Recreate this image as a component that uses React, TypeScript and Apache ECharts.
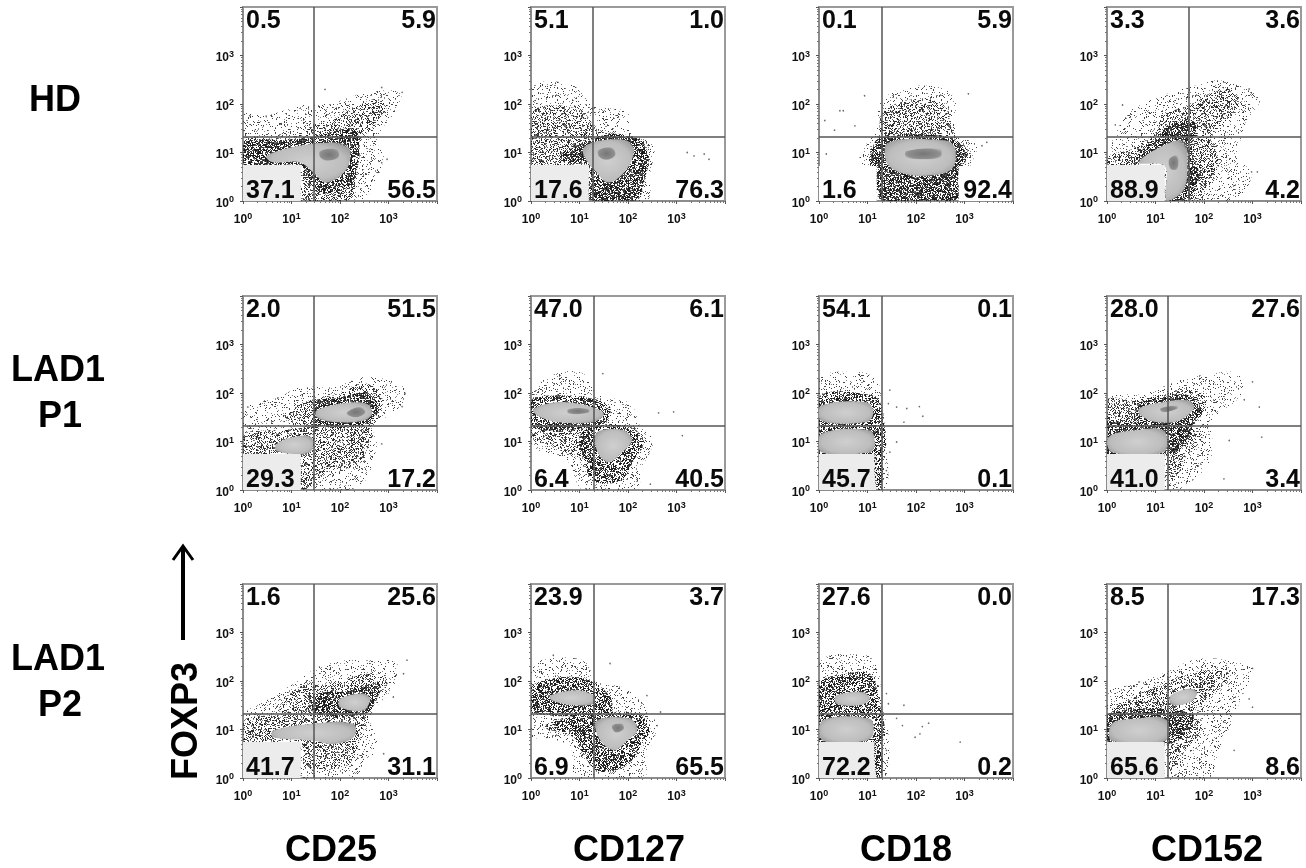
import React, { useEffect, useRef } from "react";
import * as echarts from "echarts";

// Tick decades and text
const tickExponents = [0, 1, 2, 3];
const rowLabels = [["HD"], ["LAD1", "P1"], ["LAD1", "P2"]];
const columnLabels = ["CD25", "CD127", "CD18", "CD152"];
const yAxisTitle = "FOXP3";

// Quadrant percentages: upper-left, upper-right, lower-left, lower-right
const quadrantRow1 = [["0.5", "5.9", "37.1", "56.5"], ["5.1", "1.0", "17.6", "76.3"], ["0.1", "5.9", "1.6", "92.4"], ["3.3", "3.6", "88.9", "4.2"]];
const quadrantRow2 = [["2.0", "51.5", "29.3", "17.2"], ["47.0", "6.1", "6.4", "40.5"], ["54.1", "0.1", "45.7", "0.1"], ["28.0", "27.6", "41.0", "3.4"]];
const quadrantRow3 = [["1.6", "25.6", "41.7", "31.1"], ["23.9", "3.7", "6.9", "65.5"], ["27.6", "0.0", "72.2", "0.2"], ["8.5", "17.3", "65.6", "8.6"]];

// Quadrant gates, log10 of the fluorescence value
const gateXRow1 = [1.45, 1.28, 1.29, 1.69];
const gateXRow2 = [1.46, 1.30, 1.29, 1.26];
const gateXRow3 = [1.46, 1.30, 1.29, 1.26];
const gateYRows = [1.33, 1.32, 1.32];

type Pt = number[];
type Layer = [string, Pt[]];

// Outlines of the cell populations, log10 coordinates
const hdCd25: Layer[] = [
  ["sparse", [[0, 1.76], [.48, 1.76], [1.17, 1.97], [1.86, 2.03], [2.55, 2.24], [3.24, 2.24], [3.17, 1.9], [2.76, 1.28], [2.9, .86], [2.41, 0], [0, 0]]],
  ["medium", [[.03, 1.28], [.9, 1.28], [1.45, 1.55], [2, 1.76], [2.69, 2.1], [2.97, 1.97], [2.76, 1.62], [2.41, 1.2], [2.34, .59], [2.2, .03], [1.24, .03], [1.17, .72], [.03, .72]]],
  ["dense", [[.03, 1.2], [.9, 1.26], [1.5, 1.33], [2.25, 1.5], [2.4, 1.25], [2.34, .6], [2.1, .25], [1.5, .2], [1.2, .72], [.03, .72]]],
  ["core", [[.48, .93], [1.17, 1.14], [2, 1.2], [2.2, 1.07], [2.14, .66], [1.72, .38], [1.45, .59], [1.17, .8], [.62, .8]]],
  ["peak", [[1.59, 1.03], [1.93, 1.07], [1.97, .9], [1.72, .83], [1.59, .9]]],
  ["box", [[0, 0], [1.19, 0], [1.19, .74], [0, .74]]],
];
const hdCd127: Layer[] = [
  ["sparse", [[0, 2.31], [.81, 2.41], [1.29, 1.97], [1.98, 1.83], [2.05, 1.41], [2.53, 1.14], [2.46, .59], [2.36, 0], [0, 0]]],
  ["medium", [[.03, 1.83], [.53, 1.97], [1.08, 1.83], [1.36, 1.48], [1.84, 1.34], [2.26, 1.28], [2.43, .93], [2.32, .38], [2.19, .03], [1.22, .03], [1.19, .72], [.03, .72]]],
  ["dense", [[.6, .95], [1.0, 1.15], [1.62, 1.38], [2.19, 1.28], [2.43, .93], [2.32, .38], [2.19, .03], [1.22, .03], [1.19, .72], [.74, .79]]],
  ["core", [[1.07, 1.07], [1.4, 1.24], [1.98, 1.24], [2.12, 1.05], [1.98, .66], [1.6, .38], [1.29, .66], [1.17, .8]]],
  ["peak", [[1.39, 1.05], [1.67, 1.1], [1.74, .95], [1.57, .85], [1.4, .92]]],
  ["box", [[0, 0], [1.19, 0], [1.19, .74], [0, .74]]],
];
const hdCd18: Layer[] = [
  ["sparse", [[.84, .93], [1.12, 1.41], [1.32, 2.1], [2.08, 2.38], [2.77, 2.17], [2.84, 1.41], [3.25, 1.14], [3.12, .72], [2.91, 0], [1.19, 0], [.91, .66]]],
  ["medium", [[1.22, 1.3], [1.32, 1.83], [1.94, 2.1], [2.57, 1.97], [2.77, 1.41], [3.05, 1.07], [3.05, .86], [2.88, .59], [2.84, .03], [1.29, .03], [1.12, .59], [1.01, .93]]],
  ["dense", [[1.25, 1.3], [2.7, 1.32], [3.0, 1.0], [2.86, .5], [2.84, .03], [1.3, .03], [1.16, .6], [1.08, .95]]],
  ["core", [[1.43, 1.21], [2.63, 1.24], [2.81, 1.07], [2.74, .66], [2.22, .52], [1.67, .59], [1.39, .8]]],
  ["peak", [[1.8, 1.03], [2.5, 1.07], [2.5, .9], [2.1, .86], [1.8, .9]]],
  ["mask", [[0, 0], [1.19, 0], [1.19, .72], [0, .72]]],
  ["mask", [[2.88, 0], [3.97, 0], [3.97, .72], [2.88, .72]]],
];
const hdCd152: Layer[] = [
  ["sparse", [[0, .86], [.38, 1.76], [.79, 2.03], [1.34, 2.24], [1.83, 2.38], [2.38, 2.48], [3.14, 2.1], [2.86, 1.62], [2.72, .86], [3, .59], [2.59, 0], [0, 0]]],
  ["medium", [[.03, .93], [.52, 1.07], [1, 1.41], [1.14, 1.76], [1.69, 1.97], [2.17, 2.24], [2.52, 2.31], [2.72, 2.1], [2.59, 1.76], [2.17, 1.34], [2.31, .79], [2.1, .31], [1.76, 0], [1.21, 0], [1.21, .72], [.03, .72]]],
  ["dense", [[.6, .85], [1, 1.3], [1.4, 1.62], [1.86, 1.6], [1.75, 1.1], [1.9, .5], [1.66, .05], [1.21, .05], [1.21, .72]]],
  ["core", [[.66, .79], [1.07, 1.1], [1.59, 1.24], [1.66, .72], [1.59, .24], [1.34, .03], [1.21, .03], [1.19, .72]]],
  ["peak", [[1.28, .86], [1.45, .93], [1.45, .66], [1.31, .66]]],
  ["box", [[0, 0], [1.19, 0], [1.19, .74], [0, .74]]],
];
const p1Cd25: Layer[] = [
  ["sparse", [[.07, 1.71], [.76, 1.92], [1.17, 2.12], [1.86, 2.12], [2.55, 2.33], [3.31, 2.12], [3.24, 1.71], [2.69, 1.3], [2.76, .88], [2.34, .05], [0, 0], [0, 1.09]]],
  ["medium", [[.9, 1.43], [1.17, 1.78], [1.86, 1.95], [2.48, 2.2], [2.83, 1.99], [2.86, 1.64], [2.62, 1.3], [1.52, 1.3]]],
  ["medium", [[.03, 1.16], [.83, 1.23], [1.45, 1.3], [2.62, 1.3], [2.62, 1.02], [2.34, .47], [1.86, .47], [1.38, .05], [1.17, .05], [1.17, .74], [.03, .74]]],
  ["dense", [[1.45, 1.8], [2, 1.9], [2.5, 2.0], [2.8, 1.75], [2.6, 1.38], [1.6, 1.33]]],
  ["core", [[1.52, 1.64], [2, 1.78], [2.55, 1.78], [2.66, 1.57], [2.48, 1.43], [1.86, 1.4], [1.52, 1.5]]],
  ["core", [[.69, .95], [1.03, 1.09], [1.41, 1.09], [1.41, .81], [1.17, .74], [.69, .81]]],
  ["peak", [[2.14, 1.6], [2.41, 1.71], [2.52, 1.6], [2.34, 1.5], [2.17, 1.54]]],
  ["box", [[0, 0], [1.19, 0], [1.19, .74], [0, .74]]],
];
const p1Cd127: Layer[] = [
  ["sparse", [[0, 1.99], [.53, 2.4], [1.08, 2.4], [1.36, 1.99], [2.05, 1.78], [2.26, 1.3], [2.53, 1.02], [2.26, .4], [2.19, 0], [1.08, 0], [.74, .61], [0, .95]]],
  ["medium", [[0, 1.3], [1.22, 1.3], [1.15, .68], [.32, .95], [0, 1.09]]],
  ["dense", [[0, 1.85], [.53, 1.95], [1.29, 1.88], [1.63, 1.71], [1.57, 1.43], [1.36, 1.3], [0, 1.3]]],
  ["dense", [[1.22, 1.3], [1.98, 1.33], [2.32, 1.02], [2.12, .61], [1.84, .19], [1.29, .19], [1.08, .68], [1.01, 1.09]]],
  ["core", [[.05, 1.67], [.53, 1.81], [1.15, 1.74], [1.5, 1.57], [1.29, 1.4], [.53, 1.4], [.12, 1.54]]],
  ["core", [[1.36, 1.19], [1.91, 1.23], [2.08, 1.02], [1.84, .74], [1.6, .57], [1.36, .81]]],
  ["peak", [[.77, 1.67], [1.19, 1.67], [1.19, 1.6], [.77, 1.57]]],
];
const p1Cd18: Layer[] = [
  ["sparse", [[0, 2.26], [.84, 2.43], [1.19, 2.26], [1.29, 1.85], [1.39, .88], [1.32, 0], [0, 0]]],
  ["dense", [[0, 1.92], [1.12, 1.95], [1.29, 1.71], [1.29, .74], [0, .74]]],
  ["core", [[.05, 1.74], [.98, 1.81], [1.12, 1.6], [.98, 1.4], [.05, 1.43]]],
  ["core", [[.05, 1.16], [1.05, 1.23], [1.15, .95], [1.05, .78], [.05, .78]]],
  ["box", [[0, 0], [1.19, 0], [1.19, .74], [0, .74]]],
  ["dense", [[1.15, .74], [1.29, .74], [1.29, 0], [1.19, 0]]],
];
const p1Cd152: Layer[] = [
  ["sparse", [[0, 1.85], [.79, 1.99], [1.48, 2.26], [2.17, 2.4], [2.72, 2.4], [2.79, 1.99], [2.17, 1.43], [2.17, 1.02], [2.1, .54], [1.48, 0], [1.21, 0], [0, 0]]],
  ["medium", [[0, 1.85], [.59, 1.85], [1.21, 1.99], [1.76, 2.06], [2.03, 1.92], [1.97, 1.57], [1.76, 1.3], [1.97, 1.09], [1.62, .68], [1.41, .26], [1.21, .26], [1.21, .74], [0, .74]]],
  ["dense", [[0, 1.32], [1.2, 1.3], [1.7, 1.3], [1.95, 1.6], [1.7, 1.95], [1.1, 1.9], [.6, 1.75], [.6, 1.4], [0, 1.4]]],
  ["dense", [[0, 1.3], [1.7, 1.3], [1.35, .74], [0, .74]]],
  ["core", [[.66, 1.68], [1.14, 1.81], [1.69, 1.85], [1.79, 1.68], [1.48, 1.43], [1, 1.4], [.69, 1.54]]],
  ["core", [[.03, 1.09], [.59, 1.23], [1.17, 1.23], [1.17, .78], [.1, .78]]],
  ["peak", [[1.1, 1.68], [1.45, 1.74], [1.45, 1.68], [1.14, 1.6]]],
  ["box", [[0, 0], [1.19, 0], [1.19, .74], [0, .74]]],
];
const p2Cd25: Layer[] = [
  ["sparse", [[0, 1.26], [.48, 1.6], [1.03, 1.94], [1.72, 2.36], [2.55, 2.43], [3.17, 2.36], [3.1, 1.88], [2.62, 1.26], [2.76, .7], [2.28, 0], [1.17, 0], [0, 0]]],
  ["medium", [[.76, 1.39], [1.17, 1.88], [1.86, 1.94], [2.55, 2.15], [2.97, 2.01], [2.76, 1.67], [2.55, 1.32], [1.59, 1.32]]],
  ["medium", [[.03, 1.19], [.69, 1.29], [2.55, 1.32], [2.45, .91], [2.28, .43], [2.07, .22], [1.31, .22], [1.17, .74], [.03, .74]]],
  ["dense", [[1.4, 1.7], [2.2, 1.8], [2.8, 1.95], [2.75, 1.6], [2.5, 1.32], [1.5, 1.32]]],
  ["core", [[2, 1.63], [2.48, 1.74], [2.62, 1.63], [2.48, 1.39], [2, 1.46]]],
  ["core", [[.62, .98], [1.45, 1.12], [2.28, 1.12], [2.28, .84], [1.86, .7], [1.45, .77], [.62, .84]]],
  ["box", [[0, 0], [1.19, 0], [1.19, .74], [0, .74]]],
];
const p2Cd127: Layer[] = [
  ["sparse", [[0, 2.22], [.19, 2.43], [1.08, 2.43], [1.36, 2.01], [2.05, 1.81], [2.46, 1.32], [2.6, 1.05], [2.39, .43], [2.32, 0], [.91, 0], [.81, .63], [.19, .84], [0, .77]]],
  ["dense", [[0, 1.88], [.67, 2.08], [1.22, 2.01], [1.63, 1.67], [1.63, 1.36], [0, 1.36]]],
  ["dense", [[.26, 1.05], [.81, 1.26], [1.36, 1.36], [2.19, 1.32], [2.46, 1.05], [2.26, .63], [1.91, .22], [1.36, .15], [1.08, .5], [.88, .84]]],
  ["core", [[.39, 1.7], [.94, 1.81], [1.29, 1.7], [1.29, 1.53], [.88, 1.5], [.43, 1.6]]],
  ["core", [[1.36, 1.19], [2.05, 1.22], [2.19, .98], [1.98, .77], [1.7, .57], [1.39, .84]]],
  ["peak", [[1.67, 1.08], [1.88, 1.12], [1.91, 1.01], [1.74, .94]]],
];
const p2Cd18: Layer[] = [
  ["sparse", [[0, 2.36], [.98, 2.53], [1.22, 2.22], [1.29, 1.53], [1.43, .91], [1.32, 0], [0, 0]]],
  ["dense", [[0, 1.94], [.57, 2.15], [1.05, 2.15], [1.22, 1.67], [1.29, .74], [0, .74]]],
  ["core", [[.36, 1.7], [.91, 1.77], [1.05, 1.63], [.84, 1.5], [.36, 1.53]]],
  ["core", [[.08, 1.19], [1.05, 1.22], [1.12, .91], [.98, .77], [.08, .77]]],
  ["box", [[0, 0], [1.19, 0], [1.19, .74], [0, .74]]],
  ["dense", [[1.15, .74], [1.29, .74], [1.29, 0], [1.19, 0]]],
];
const p2Cd152: Layer[] = [
  ["sparse", [[0, 1.74], [.59, 1.94], [1.14, 2.15], [1.9, 2.46], [2.86, 2.36], [3, 2.22], [2.72, 1.53], [2.59, 1.19], [2.31, .57], [2.1, 0], [1.21, 0], [0, 0]]],
  ["medium", [[.45, 1.63], [1, 1.88], [1.48, 2.08], [2.03, 2.22], [2.52, 2.15], [2.17, 1.67], [1.76, 1.32], [1.97, 1.05], [1.62, .57], [1.28, .15], [1.21, .74], [.03, .74], [.03, 1.32]]],
  ["dense", [[.03, 1.32], [1.76, 1.32], [1.4, .74], [.03, .74]]],
  ["core", [[1.31, 1.7], [1.69, 1.84], [1.86, 1.77], [1.76, 1.6], [1.48, 1.5], [1.31, 1.53]]],
  ["core", [[.1, 1.12], [.59, 1.22], [1.21, 1.22], [1.21, .77], [.1, .77]]],
  ["box", [[0, 0], [1.19, 0], [1.19, .74], [0, .74]]],
];

// Stray events outside the clouds, log10 coordinates
const strayHd = [
  [[.14, 1.76], [.48, 1.74], [1.69, 2.3], [2.86, 2.34], [3.28, 2.24], [2.97, .86], [2.86, .79]],
  [[3.22, 1], [3.36, .93], [3.57, .97], [3.67, .86]],
  [[.94, 2.17], [.43, 1.86], [.5, 1.86], [.12, 1.66], [.32, 1.46], [.74, 1.55], [.15, .97], [3.46, 1.21], [3.36, 1.14], [3.08, 2.21]],
  [[.32, 1.98], [.17, 1.57], [3.1, .6], [2.98, .6], [2.93, 2.31]],
];
const strayP1 = [
  [[.1, 1.71], [.72, 1.9], [3.34, 1.99], [3.28, 1.72], [2.86, .95]],
  [[1.48, 2.4], [2.63, 1.59], [2.94, 1.61], [3.12, 1.12], [2.46, .12]],
  [[1.43, 1.78], [1.6, 1.71], [1.81, 1.68], [2.07, 1.72], [2.14, 1.52], [1.75, 1.4], [1.46, 2.06], [1.6, .99], [1.46, .78], [1.39, .4]],
  [[3, 2.23], [2.83, 1.86], [3.14, 1.71], [3.19, 1.09], [2.52, 1.02], [2.41, .23]],
];
const strayP2 = [
  [[3.38, 2.43], [3.31, 2.15], [2.9, .5], [3.1, 1.67]],
  [[1.63, 2.36], [2.39, 1.7], [.46, 2.53], [2.6, 1.08], [2.67, 1.36]],
  [[1.39, 1.74], [1.43, 1.53], [1.75, 1.5], [1.6, 1.23], [1.72, 1.08], [2.26, 1.13], [2.13, 1.06], [1.98, .84], [2.08, .91], [2.91, .74], [1.32, 1.12], [1.39, .57]],
  [[3, 2.26], [3, 1.46], [2.93, 1.63], [2.62, .57], [.66, 1.98]],
];

const panelRows = [
  [hdCd25, hdCd127, hdCd18, hdCd152],
  [p1Cd25, p1Cd127, p1Cd18, p1Cd152],
  [p2Cd25, p2Cd127, p2Cd18, p2Cd152],
];
const quadrantRows = [quadrantRow1, quadrantRow2, quadrantRow3];
const gateXRows = [gateXRow1, gateXRow2, gateXRow3];
const strayRows = [strayHd, strayP1, strayP2];

const PANEL = 194;
const lefts = [243, 531, 819, 1107];
const tops = [7, 296, 584];
const FONT = '"Liberation Sans", Arial, sans-serif';

// Speckle texture for the dot clouds (a repeating tile, not data)
function speckle(count: number, dark: string, light: string, seed: number) {
  const size = 128;
  const c = document.createElement("canvas");
  c.width = size;
  c.height = size;
  const g = c.getContext("2d")!;
  let s = seed * 2654435 + 99991;
  const next = () => {
    s ^= s << 13;
    s ^= s >>> 17;
    s ^= s << 5;
    return s >>> 0;
  };
  for (let i = 0; i < count; i++) {
    const x = next() % size;
    const y = next() % size;
    g.fillStyle = i % 3 === 0 ? light : dark;
    g.fillRect(x, y, 1, 1);
  }
  return { image: c, repeat: "repeat", imageWidth: size, imageHeight: size };
}

const pow = (p: Pt) => [10 ** p[0], 10 ** p[1]];

export default function App() {
  const ref = useRef<HTMLDivElement>(null);
  useEffect(() => {
    const chart = echarts.init(ref.current!, null, { renderer: "svg" });
    const radial = (stops: [number, string][]) => ({
      type: "radial", x: 0.5, y: 0.5, r: 0.62,
      colorStops: stops.map(([offset, color]) => ({ offset, color })),
    });
    const fills: Record<string, any> = {
      sparse: speckle(2200, "#444444", "#888888", 1),
      medium: speckle(5200, "#2a2a2a", "#666666", 2),
      dense: speckle(10500, "#1c1c1c", "#4a4a4a", 3),
      core: radial([[0, "#cfcfcf"], [0.7, "#bdbdbd"], [0.92, "#a2a2a2"], [1, "rgba(130,130,130,0.5)"]]),
      peak: radial([[0, "#767676"], [0.7, "#8e8e8e"], [1, "rgba(160,160,160,0.3)"]]),
      box: "#ececec",
      mask: "#ffffff",
    };
    const grid: any[] = [], xAxis: any[] = [], yAxis: any[] = [], series: any[] = [], graphic: any[] = [];
    const axisBase = (i: number) => ({
      type: "log", logBase: 10, min: 1, max: 10000, gridIndex: i,
      axisLine: { show: true, lineStyle: { color: "#8c8c8c", width: 2 } },
      axisTick: { show: true, length: 3, lineStyle: { color: "#555", width: 1 } },
      minorTick: { show: true, length: 2, splitNumber: 9, lineStyle: { color: "#777", width: 1 } },
      splitLine: { show: false },
      minorSplitLine: { show: false },
      axisLabel: {
        show: true,
        formatter: (v: number) => {
          const e = Math.round(Math.log10(v));
          return tickExponents.includes(e) ? `{b|10}{s|${e}}` : "";
        },
        rich: {
          b: { fontFamily: FONT, fontWeight: "bold", fontSize: 12, color: "#111", padding: [3, 0, 0, 0] },
          s: { fontFamily: FONT, fontWeight: "bold", fontSize: 9, color: "#111", padding: [0, 0, 4, 0] },
        },
      },
    });
    panelRows.forEach((row, r) => row.forEach((layers, c) => {
      const i = grid.length;
      const left = lefts[c], top = tops[r];
      grid.push({ left, top, width: PANEL, height: PANEL, show: true, borderColor: "#9a9a9a", borderWidth: 2, backgroundColor: "transparent" });
      xAxis.push({ ...axisBase(i), axisLabel: { ...axisBase(i).axisLabel, margin: 9 } });
      yAxis.push({ ...axisBase(i), axisLabel: { ...axisBase(i).axisLabel, margin: 9 } });
      layers.forEach(([kind, outline], k) => {
        const points = outline.map(pow);
        series.push({
          type: "custom", xAxisIndex: i, yAxisIndex: i, clip: true, silent: true, z: 2 + k / 20,
          data: points,
          renderItem: (params: any, api: any) => params.dataIndex === 0 ? {
            type: "polygon",
            shape: { points: points.map((p) => api.coord(p)), smooth: kind === "box" || kind === "mask" ? 0 : 0.35 },
            style: { fill: fills[kind] },
          } : null,
        });
      });
      series.push({
        type: "scatter", xAxisIndex: i, yAxisIndex: i, symbolSize: 1.6, silent: true, z: 4,
        itemStyle: { color: "#444" },
        data: strayRows[r][c].map(pow),
        markLine: {
          silent: true, symbol: "none", animation: false, z: 5,
          label: { show: false },
          lineStyle: { color: "#555", width: 1.5, type: "solid" },
          data: [{ xAxis: 10 ** gateXRows[r][c] }, { yAxis: 10 ** gateYRows[r] }],
        },
      });
      const q = quadrantRows[r][c];
      const labelFont = `bold 25px ${FONT}`;
      const place = [
        [left + 3, top + 12, "left"],
        [left + PANEL - 1, top + 12, "right"],
        [left + 3, top + PANEL - 12, "left"],
        [left + PANEL - 1, top + PANEL - 12, "right"],
      ] as [number, number, string][];
      q.forEach((t, n) => graphic.push({
        type: "text", x: place[n][0], y: place[n][1], z: 100,
        style: { text: t, font: labelFont, fill: "#0a0a0a", textAlign: place[n][2], textVerticalAlign: "middle" },
      }));
    }));
    const big = `bold 36px ${FONT}`;
    const bigText = (text: string, x: number, y: number, rotation = 0) => ({
      type: "text", x, y, rotation, z: 100,
      style: { text, font: big, fill: "#000", textAlign: "center", textVerticalAlign: "middle" },
    });
    const rowCenters = [[98], [368, 414], [657, 703]];
    rowLabels.forEach((lines, r) => lines.forEach((t, n) => graphic.push(bigText(t, t === "HD" ? 55 : t === "LAD1" ? 58 : 60, rowCenters[r][n]))));
    const colCenters = [331, 629, 906, 1207];
    columnLabels.forEach((t, c) => graphic.push(bigText(t, colCenters[c], 848)));
    graphic.push(bigText(yAxisTitle, 184, 721, Math.PI / 2));
    graphic.push({ type: "line", z: 100, shape: { x1: 183, y1: 640, x2: 183, y2: 547 }, style: { stroke: "#000", lineWidth: 4 } });
    graphic.push({ type: "polyline", z: 100, shape: { points: [[173, 560], [183, 546], [193, 560]] }, style: { stroke: "#000", lineWidth: 3, fill: "none" } });

    chart.setOption({ animation: false, backgroundColor: "#fff", grid, xAxis, yAxis, series, graphic });
    return () => chart.dispose();
  }, []);
  return <div ref={ref} style={{ position: "absolute", left: 0, top: 0, width: 1306, height: 868, filter: "blur(0.45px)" }} />;
}
